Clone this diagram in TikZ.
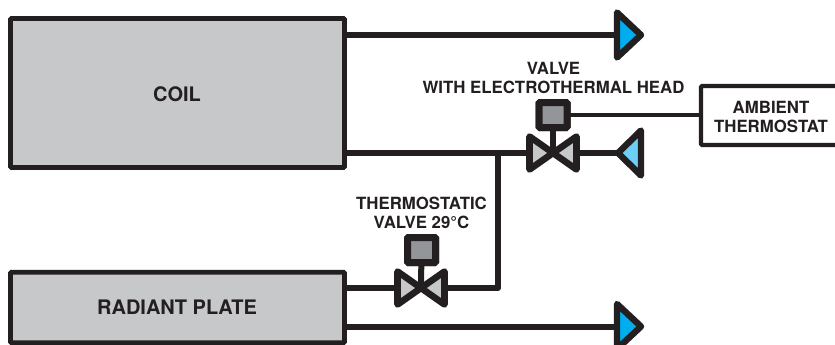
\documentclass[tikz,border=0pt]{standalone}
\usepackage{fontspec}
\setmainfont{TeX Gyre Heros}
\definecolor{ink}{HTML}{231F20}
\definecolor{boxgrey}{HTML}{C7C8CA}
\definecolor{headgrey}{HTML}{939598}
\definecolor{hotblue}{HTML}{00AEEF}
\definecolor{coldblue}{HTML}{6DCFF6}
\tikzset{
  x=1pt,y=-1pt,
  block/.style={draw=ink,line width=4.8pt,fill=boxgrey,rounded corners=1pt,inner sep=0pt,outer sep=0pt,anchor=north west},
  thermobox/.style={draw=ink,line width=4.2pt,fill=white,rounded corners=1pt,inner sep=0pt,outer sep=0pt,anchor=north west},
  head/.style={draw=ink,line width=7pt,fill=headgrey,rounded corners=1pt,inner sep=0pt,outer sep=0pt,minimum width=28pt,minimum height=25pt},
  pipe/.style={draw=ink,line width=6pt,line join=round},
  wire/.style={draw=ink,line width=3.8pt},
  bow/.style={draw=ink,line width=6.6pt,line join=round,fill=boxgrey},
  tip/.style={draw=ink,line width=6.4pt,line join=round},
  biglbl/.style={text=ink,font=\fontsize{20}{24}\selectfont\bfseries,align=center,inner sep=0pt},
  lbl/.style={text=ink,font=\fontsize{16.8}{19}\selectfont\bfseries,align=center,inner sep=0pt},
}
\begin{document}
\begin{tikzpicture}
\path[clip] (0,0) rectangle (835,345);
\useasboundingbox (0,0) rectangle (835,345);
% blocks
\node[block,minimum width=334pt,minimum height=149pt] (coil) at (10.5,18.5) {};
\node[block,minimum width=334pt,minimum height=70.5pt] (plate) at (10.5,272.3) {};
\node[thermobox,minimum width=142pt,minimum height=59pt] (thermo) at (701,86) {};
% reference points
\coordinate (out1) at (617,35);
\coordinate (out2) at (617,326.5);
\coordinate (ret) at (618,153);
\coordinate (v1) at (553,153);
\coordinate (v2) at (421,288);
\coordinate (junction) at (498,153);
\node[head] (h1) at (553,115) {};
\node[head] (h2) at (421.5,250) {};
% connectors
\draw[pipe] (coil.east |- out1) -- (out1);
\draw[pipe] (plate.east |- out2) -- (out2);
\draw[pipe] (coil.east |- v1) -- (v1) -- (ret);
\draw[pipe] (plate.east |- v2) -- (v2) -- (junction |- v2) [rounded corners=3pt] -- (junction);
\draw[pipe] (h1) -- (v1);
\draw[pipe] (h2) -- (v2);
\draw[wire] (h1) -- (thermo.west |- h1);
% redraw heads over stems
\node[head] at (553,115) {};
\node[head] at (421.5,250) {};
% valves
\foreach \v in {v1,v2}{
  \draw[bow] (\v) -- ++(-23.5,-16.5) -- ++(0,33) -- cycle;
  \draw[bow] (\v) -- ++(23.5,-16.5) -- ++(0,33) -- cycle;
}
% terminals
\draw[tip,fill=hotblue] (out1) ++(0,-22.5) -- ++(24,22.5) -- ++(-24,22.5) -- cycle;
\draw[tip,fill=hotblue] (out2) ++(0,-22.5) -- ++(24,22.5) -- ++(-24,22.5) -- cycle;
\draw[tip,fill=coldblue] (ret) -- ++(23,-22.5) -- ++(0,45) -- cycle;
% labels
\node[biglbl] (t1) at (177,94) {COIL};
\node[biglbl] (t2) at (177,307.5) {RADIANT PLATE};
\node[lbl] (t3) at (771,117) {AMBIENT\\THERMOSTAT};
\node[lbl] (t4) at (553.5,77.7) {VALVE\\WITH ELECTROTHERMAL HEAD};
\node[lbl] (t5) at (421.5,213) {THERMOSTATIC\\VALVE 29°C};
\end{tikzpicture}
\end{document}
